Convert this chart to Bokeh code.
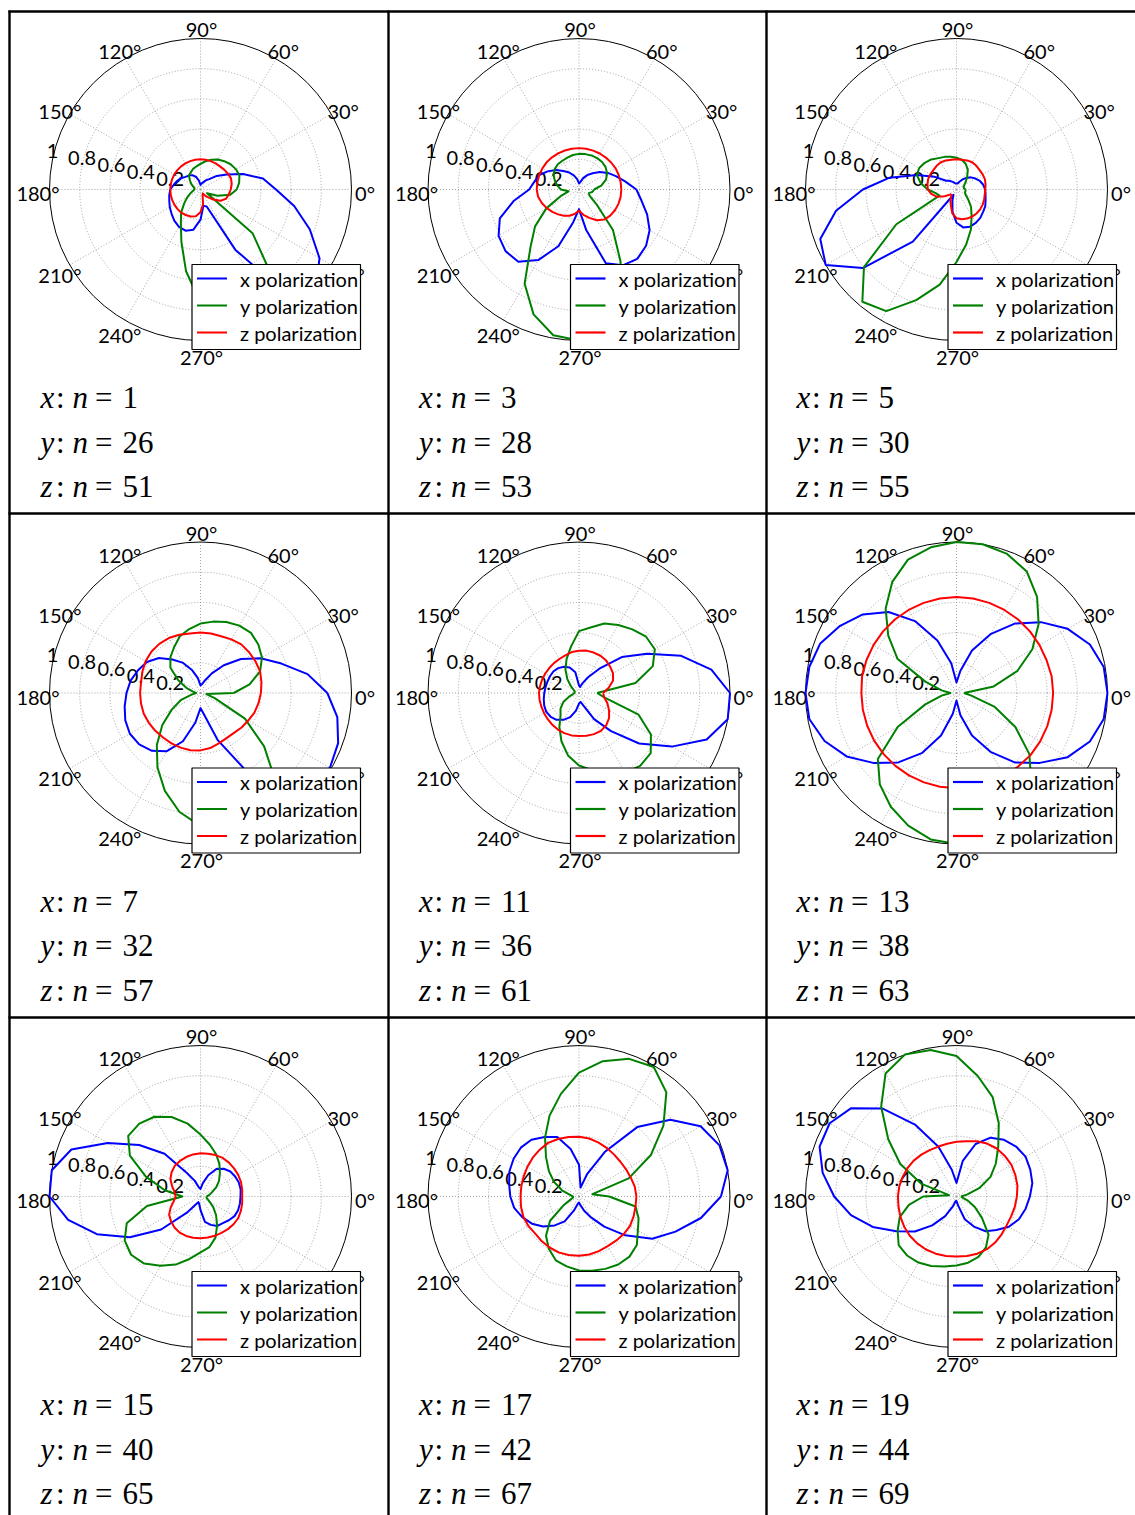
import numpy as np
from bokeh.plotting import figure
from bokeh.models import Range1d
from bokeh.embed import file_html
from bokeh.resources import INLINE
from bokeh.core.properties import value

# angles (degrees) at which every pattern is sampled
theta_deg = list(range(0, 360, 10))

# ---- panel 1 : x n=1, y n=26, z n=51
x_n1 = [.50,.42,.30,.20,.14,.09,.07,.05,.04,.03,.06,.09,.11,.12,.13,.15,.165,.18,
        .20,.21,.22,.235,.25,.27,.285,.29,.27,.20,.11,.12,.46,.96,1.0,.91,.77,.63]
y_n26 = [.24,.26,.274,.27,.26,.245,.23,.21,.19,.17,.155,.145,.13,.12,.09,.07,.05,.04,
         .04,.05,.07,.10,.14,.20,.26,.37,.55,.75,.88,.93,.88,.72,.45,.05,.12,.20]
z_n51 = [.20,.21,.215,.21,.205,.20,.20,.20,.20,.20,.20,.20,.20,.20,.20,.20,.20,.20,
         .20,.20,.20,.20,.20,.20,.195,.19,.18,.15,.10,.04,.03,.06,.10,.15,.18,.19]
# ---- panel 2 : x n=3, y n=28, z n=53
x_n3 = [.38,.31,.26,.22,.18,.14,.11,.08,.05,.04,.07,.10,.13,.16,.20,.24,.28,.30,
        .33,.44,.558,.615,.635,.625,.54,.40,.22,.13,.27,.52,.58,.60,.58,.54,.48,.42]
y_n28 = [.10,.15,.19,.215,.23,.238,.24,.24,.238,.236,.232,.225,.22,.218,.21,.195,.17,.145,
         .12,.07,.13,.25,.38,.50,.72,.88,.98,1.0,.95,.80,.55,.35,.15,.08,.07,.09]
z_n53 = [.28,.28,.28,.28,.278,.276,.275,.274,.274,.274,.274,.275,.276,.278,.28,.28,.28,.28,
         .28,.275,.262,.247,.23,.215,.20,.185,.165,.14,.17,.20,.235,.26,.27,.275,.278,.28]
# ---- panel 3 : x n=5, y n=30, z n=55
x_n5 = [.19,.18,.165,.145,.125,.10,.075,.055,.04,.04,.04,.05,.06,.075,.09,.17,.28,.45,
        .62,.81,.96,1.0,.81,.45,.04,.08,.15,.22,.255,.262,.255,.245,.23,.22,.205,.195]
y_n30 = [.06,.05,.05,.06,.08,.11,.15,.18,.20,.21,.22,.23,.24,.26,.275,.285,.28,.24,
         .19,.14,.12,.46,.80,.97,.93,.78,.64,.48,.37,.28,.20,.15,.10,.07,.06,.06]
z_n55 = [.19,.195,.20,.20,.20,.205,.208,.205,.20,.20,.20,.205,.208,.205,.20,.20,.20,.195,
         .19,.17,.14,.09,.05,.05,.08,.11,.16,.19,.20,.205,.207,.207,.205,.20,.195,.19]
# ---- panel 4 : x n=7, y n=32, z n=57
x_n7 = [.84,.72,.57,.46,.35,.24,.15,.09,.06,.05,.10,.16,.23,.29,.36,.41,.44,.47,
        .49,.51,.53,.54,.53,.50,.445,.34,.20,.10,.15,.33,.58,.80,.93,.99,.97,.92]
y_n32 = [.22,.33,.42,.47,.50,.52,.515,.50,.48,.46,.43,.40,.35,.31,.26,.17,.10,.05,
         .03,.06,.14,.22,.33,.45,.57,.69,.80,.88,.90,.88,.83,.78,.55,.34,.10,.04]
z_n57 = [.40,.41,.42,.42,.42,.42,.41,.40,.40,.40,.40,.41,.42,.425,.425,.42,.41,.40,
         .40,.40,.40,.395,.39,.385,.385,.385,.385,.38,.37,.355,.345,.345,.355,.365,.38,.39]
# ---- panel 5 : x n=11, y n=36, z n=61
x_n11 = [1.0,.89,.72,.52,.37,.21,.12,.07,.04,.05,.14,.18,.20,.215,.222,.222,.222,.225,
         .23,.237,.245,.25,.245,.232,.205,.17,.12,.07,.06,.09,.20,.33,.52,.71,.90,1.0]
y_n36 = [.12,.38,.52,.58,.58,.55,.52,.49,.44,.41,.31,.24,.18,.12,.07,.04,.03,.03,
         .03,.04,.07,.12,.16,.19,.26,.34,.42,.48,.52,.57,.61,.63,.62,.55,.42,.17]
z_n61 = [.16,.20,.24,.26,.27,.28,.285,.285,.285,.28,.275,.265,.26,.258,.257,.258,.26,.262,
         .265,.265,.265,.267,.27,.275,.28,.283,.285,.285,.288,.29,.29,.28,.26,.23,.20,.17]
# ---- panel 6 : x n=13, y n=38, z n=63
x_n13 = [1.0,.99,.94,.85,.73,.60,.45,.30,.15,.07,.20,.37,.55,.70,.81,.89,.96,.99,
         1.0,.99,.93,.84,.72,.60,.46,.30,.14,.05,.15,.30,.45,.60,.72,.85,.94,.99]
y_n38 = [.05,.25,.43,.58,.71,.83,.93,.98,1.0,1.0,.98,.94,.85,.73,.59,.45,.22,.10,
         .04,.10,.22,.45,.68,.79,.87,.935,.985,1.0,.99,.95,.88,.77,.63,.45,.27,.10]
z_n63 = [.64,.64,.635,.635,.635,.635,.635,.635,.635,.635,.635,.635,.635,.635,.635,.635,.635,.635,
         .63,.63,.63,.63,.63,.63,.63,.63,.63,.63,.635,.635,.635,.635,.64,.64,.64,.64]
# ---- panel 7 : x n=15, y n=40, z n=65
x_n15 = [.265,.27,.27,.265,.258,.24,.21,.15,.09,.05,.06,.11,.18,.37,.53,.71,.91,1.0,
         1.0,.89,.73,.54,.34,.14,.06,.04,.05,.09,.17,.20,.225,.23,.245,.26,.265,.265]
y_n40 = [.04,.06,.08,.12,.16,.20,.25,.30,.35,.41,.49,.56,.61,.63,.625,.54,.385,.24,
         .12,.36,.52,.58,.60,.58,.53,.48,.42,.37,.34,.29,.22,.16,.11,.07,.05,.04]
z_n65 = [.276,.28,.285,.288,.29,.293,.295,.292,.288,.286,.283,.278,.272,.265,.25,.23,.20,.175,
         .165,.18,.21,.24,.255,.268,.276,.278,.277,.276,.276,.277,.278,.282,.286,.288,.284,.28]
# ---- panel 8 : x n=17, y n=42, z n=67
x_n17 = [.94,1.0,.99,.93,.79,.60,.34,.16,.06,.21,.32,.42,.455,.49,.503,.50,.49,.47,
         .455,.436,.40,.36,.31,.25,.19,.10,.05,.04,.06,.10,.16,.26,.40,.56,.68,.82]
y_n42 = [.20,.09,.35,.55,.73,.90,.99,.97,.91,.82,.69,.57,.45,.34,.26,.19,.12,.06,
         .04,.04,.06,.12,.25,.34,.40,.45,.47,.49,.50,.51,.52,.52,.50,.45,.42,.38]
z_n67 = [.38,.375,.365,.36,.358,.362,.37,.38,.39,.395,.40,.405,.41,.405,.40,.394,.39,.388,
         .387,.39,.392,.388,.38,.385,.39,.394,.394,.393,.39,.385,.38,.382,.387,.39,.385,.38]
# ---- panel 9 : x n=19, y n=44, z n=69
x_n19 = [.486,.51,.52,.528,.515,.49,.45,.37,.24,.09,.18,.35,.55,.76,.91,.97,.965,.90,
         .81,.71,.59,.46,.36,.25,.15,.07,.03,.03,.06,.16,.23,.30,.345,.40,.44,.465]
y_n44 = [.03,.07,.16,.26,.34,.43,.56,.70,.81,.93,.985,1.0,.94,.776,.59,.43,.25,.05,
         .22,.32,.40,.45,.50,.51,.505,.49,.47,.457,.445,.425,.39,.33,.22,.14,.08,.04]
z_n69 = [.40,.41,.415,.42,.418,.415,.405,.39,.372,.362,.355,.352,.355,.362,.37,.375,.38,.385,
         .388,.39,.395,.40,.404,.405,.405,.403,.40,.397,.40,.403,.403,.398,.39,.383,.385,.392]

n_labels = [("1", "26", "51"), ("3", "28", "53"), ("5", "30", "55"),
            ("7", "32", "57"), ("11", "36", "61"), ("13", "38", "63"),
            ("15", "40", "65"), ("17", "42", "67"), ("19", "44", "69")]
series = [(x_n1, y_n26, z_n51), (x_n3, y_n28, z_n53), (x_n5, y_n30, z_n55),
          (x_n7, y_n32, z_n57), (x_n11, y_n36, z_n61), (x_n13, y_n38, z_n63),
          (x_n15, y_n40, z_n65), (x_n17, y_n42, z_n67), (x_n19, y_n44, z_n69)]
series_names = ["x polarization", "y polarization", "z polarization"]
series_colors = ["#0000ff", "#008000", "#ff0000"]
ring_values = [0.2, 0.4, 0.6, 0.8, 1.0]
ring_labels = ["0.2", "0.4", "0.6", "0.8", "1"]
angle_ticks = list(range(0, 360, 30))

# ---- layout (page pixel coordinates)
W, H = 1135, 1515
col_cx = [200.0, 578.5, 956.0]
row_cy = [189.0, 692.5, 1196.0]
R = 151.0
LABEL_FONT = value("Lato")
SERIF = value("Liberation Serif")

p = figure(width=W, height=H, x_range=Range1d(0, W), y_range=Range1d(H, 0),
           output_backend="svg", toolbar_location=None, min_border=0,
           x_axis_location=None, y_axis_location=None)
p.grid.visible = False
p.outline_line_color = None
p.background_fill_color = "white"
p.border_fill_color = "white"


def to_xy(cx, cy, r, deg):
    t = np.radians(np.asarray(deg, dtype=float))
    r = np.asarray(r, dtype=float)
    return cx + R * r * np.cos(t), cy - R * r * np.sin(t)


for k in range(9):
    cx = col_cx[k % 3]
    cy = row_cy[k // 3]
    # dotted grid rings and spokes
    for rv in ring_values[:-1]:
        p.circle(x=[cx], y=[cy], radius=R * rv, fill_color=None,
                 line_color="#9a9a9a", line_dash="1 2", line_width=0.9)
    sx, sy = to_xy(cx, cy, [1.0] * len(angle_ticks), angle_ticks)
    p.segment(x0=[cx] * len(angle_ticks), y0=[cy] * len(angle_ticks), x1=sx, y1=sy,
              line_color="#9a9a9a", line_dash="1 2", line_width=0.9)
    p.circle(x=[cx], y=[cy], radius=R, fill_color=None, line_color="black", line_width=1)
    # angle labels
    lx, ly = to_xy(cx, cy, [1.083] * len(angle_ticks), angle_ticks)
    p.text(x=lx + 1, y=ly + 3.5, text=[f"{a}°" for a in angle_ticks],
           text_align="center", text_baseline="middle",
           text_font=LABEL_FONT, text_font_size="20px", text_color="black")
    # radial labels
    rx, ry = to_xy(cx, cy, ring_values, [166.5] * len(ring_values))
    p.text(x=rx - 1, y=ry - 3, text=ring_labels, text_align="center", text_baseline="middle",
           text_font=LABEL_FONT, text_font_size="20px", text_color="black")
    # curves
    for vals, col in zip(series[k], series_colors):
        xs, ys = to_xy(cx, cy, list(vals) + [vals[0]], theta_deg + [theta_deg[0]])
        p.line(xs, ys, line_color=col, line_width=2, line_join="round")
    # legend box
    p.quad(left=[cx - 8.5], right=[cx + 160], top=[cy + 75], bottom=[cy + 160],
           fill_color="white", line_color="black", line_width=1.2)
    for j, (name, col) in enumerate(zip(series_names, series_colors)):
        yy = cy + 89 + 27 * j
        p.segment(x0=[cx - 3.5], y0=[yy], x1=[cx + 26.5], y1=[yy], line_color=col, line_width=2.2)
        p.text(x=[cx + 39.5], y=[yy], text=[name], text_align="left", text_baseline="middle",
               text_font=LABEL_FONT, text_font_size="20px", text_color="black")
    # caption lines
    tx = cx - 160
    for j, (var, n) in enumerate(zip(["x", "y", "z"], n_labels[k])):
        by = cy + 208 + 44.5 * j
        p.text(x=[tx], y=[by], text=[var], text_font=SERIF, text_font_style="italic",
               text_font_size="31px", text_baseline="alphabetic")
        p.text(x=[tx + 15.5], y=[by], text=[":"], text_font=SERIF,
               text_font_size="31px", text_baseline="alphabetic")
        p.text(x=[tx + 32], y=[by], text=["n"], text_font=SERIF, text_font_style="italic",
               text_font_size="31px", text_baseline="alphabetic")
        p.text(x=[tx + 54.5], y=[by], text=["="], text_font=SERIF,
               text_font_size="31px", text_baseline="alphabetic")
        p.text(x=[tx + 82], y=[by], text=[n], text_font=SERIF,
               text_font_size="31px", text_baseline="alphabetic")

# table rules
p.segment(x0=[9, 388, 766], y0=[10, 10, 10], x1=[9, 388, 766], y1=[H, H, H],
          line_color="black", line_width=2.4)
p.segment(x0=[8, 8, 8], y0=[11, 513, 1017], x1=[W, W, W], y1=[11, 513, 1017],
          line_color="black", line_width=2.4)

open("out.html", "w").write(file_html(p, INLINE))
